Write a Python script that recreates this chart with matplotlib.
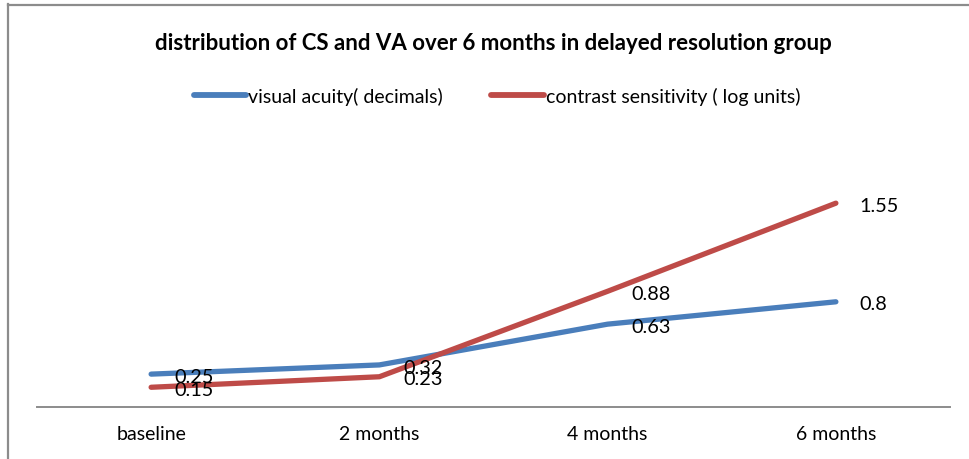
import matplotlib
matplotlib.use("Agg")
import matplotlib.pyplot as plt
from matplotlib.lines import Line2D

categories = ["baseline", "2 months", "4 months", "6 months"]
visual_acuity = [0.25, 0.32, 0.63, 0.8]
contrast_sens = [0.15, 0.23, 0.88, 1.55]
va_labels = ["0.25", "0.32", "0.63", "0.8"]
cs_labels = ["0.15", "0.23", "0.88", "1.55"]

plt.rcParams['font.family'] = ['Lato', 'DejaVu Sans']

W, H = 969, 460
fig = plt.figure(figsize=(W / 100, H / 100), dpi=100)

ax = fig.add_axes([37 / W, 1 - 408 / H, (950 - 37) / W, (408 - 145) / H])
x = list(range(len(categories)))
blue = "#4A7EBB"
red = "#BE4B48"
ax.plot(x, visual_acuity, color=blue, lw=3.8, solid_capstyle="round", solid_joinstyle="round", zorder=3)
ax.plot(x, contrast_sens, color=red, lw=3.8, solid_capstyle="round", solid_joinstyle="round", zorder=3)
for xi, v, t in zip(x, visual_acuity, va_labels):
    ax.annotate(t, (xi, v), xytext=(17, -1.5), textcoords="offset points", ha="left", va="center", fontsize=14.3, zorder=5)
for xi, v, t in zip(x, contrast_sens, cs_labels):
    ax.annotate(t, (xi, v), xytext=(17, -1.5), textcoords="offset points", ha="left", va="center", fontsize=14.3, zorder=5)

ax.set_xlim(-0.5, len(categories) - 0.5)
ax.set_ylim(0, 2)
ax.set_xticks(x)
ax.set_xticklabels(categories, fontsize=14)
ax.tick_params(axis="x", length=0, pad=13)
ax.set_yticks([])
for s in ["top", "right", "left"]:
    ax.spines[s].set_visible(False)
ax.spines["bottom"].set_color("#8c8c8c")
ax.spines["bottom"].set_linewidth(1.4)
ax.patch.set_alpha(0)

fig.text(493 / W, 1 - 43 / H, "distribution of CS and VA over 6 months in delayed resolution group",
         ha="center", va="center", fontsize=16, fontweight="bold")

handles = [Line2D([], [], color=blue, lw=4.2, solid_capstyle="round"),
           Line2D([], [], color=red, lw=4.2, solid_capstyle="round")]
fig.legend(handles, ["visual acuity( decimals)", "contrast sensitivity ( log units)"],
           loc="center", bbox_to_anchor=(497 / W, 1 - 97 / H), ncol=2, frameon=False,
           fontsize=14, handlelength=2.7, handletextpad=0.1, columnspacing=2.5)

# outer frame (left and top edges)
fig.add_artist(Line2D([7.5 / W, 7.5 / W], [0, 1 - 5 / H], color="#8c8c8c", lw=1.6, transform=fig.transFigure))
fig.add_artist(Line2D([7.5 / W, 1], [1 - 5.5 / H, 1 - 5.5 / H], color="#8c8c8c", lw=1.6, transform=fig.transFigure))

fig.savefig("out.png", dpi=100, facecolor="white")
